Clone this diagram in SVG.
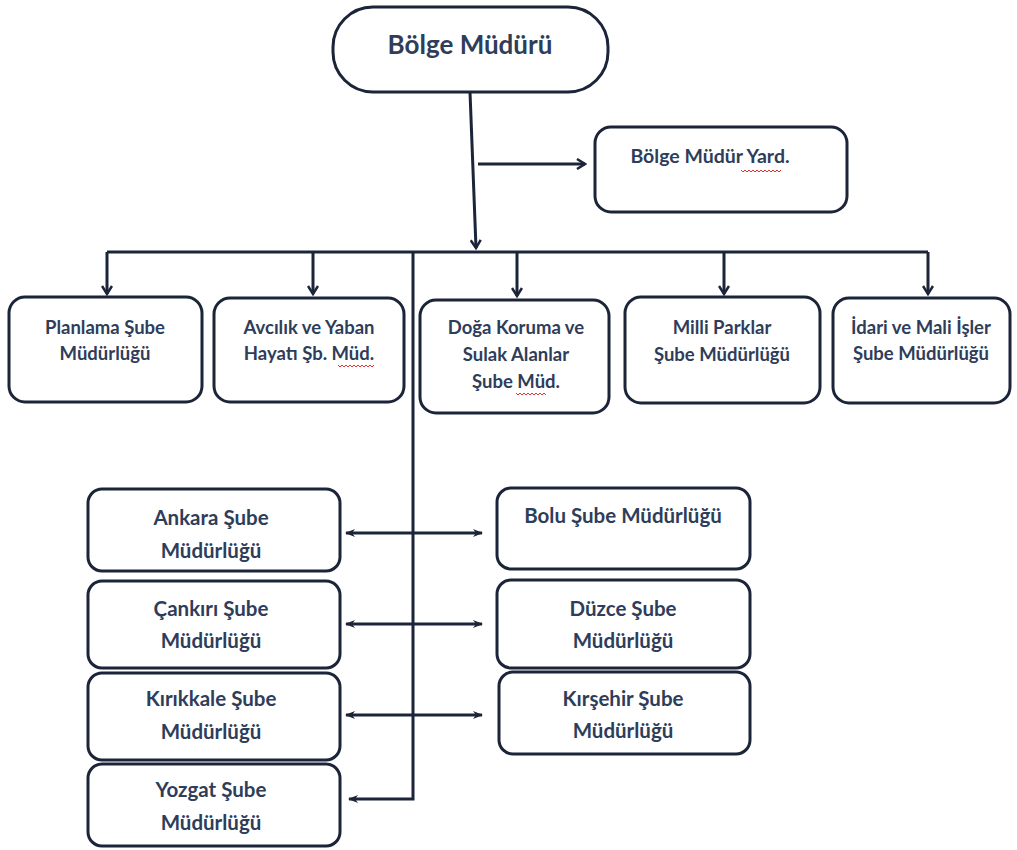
<svg xmlns="http://www.w3.org/2000/svg" width="1017" height="850" viewBox="0 0 1017 850">
<style>
.box{fill:#fff;stroke:#1b2438;stroke-width:3}
.ln{fill:none;stroke:#1b2438;stroke-width:3}
.t{font-family:Lato,"Liberation Sans",sans-serif;font-weight:bold;fill:#2e3d5a;text-anchor:middle;font-size:18.5px}
.b{font-size:20.5px}
.sq{fill:none;stroke:#d33;stroke-width:1}
</style>
<defs>
<marker id="v" viewBox="0 0 12 12" refX="10" refY="6" markerWidth="12" markerHeight="12" markerUnits="userSpaceOnUse" orient="auto-start-reverse">
<path d="M2,1 L10,6 L2,11" fill="none" stroke="#1b2438" stroke-width="2.5"/>
</marker>
<marker id="s" viewBox="0 0 10 10" refX="9" refY="5" markerWidth="10" markerHeight="10" markerUnits="userSpaceOnUse" orient="auto-start-reverse">
<path d="M0,1 L10,5 L0,9 L3,5 Z" fill="#1b2438"/>
</marker>
</defs>
<g id="connectors">
<path class="ln" d="M470,92 L476,248" marker-end="url(#v)"/>
<path class="ln" d="M478,164 L585,164" marker-end="url(#v)"/>
<path class="ln" d="M107,252 L928,252"/>
<path class="ln" d="M107,252 L107,294" marker-end="url(#v)"/>
<path class="ln" d="M313,252 L313,294" marker-end="url(#v)"/>
<path class="ln" d="M517,252 L517,296" marker-end="url(#v)"/>
<path class="ln" d="M724,252 L724,294" marker-end="url(#v)"/>
<path class="ln" d="M928,252 L928,294" marker-end="url(#v)"/>
<path class="ln" d="M413,252 L413,799 L349,799" marker-end="url(#s)"/>
<path class="ln" d="M346,533 L482,533" marker-start="url(#s)" marker-end="url(#s)"/>
<path class="ln" d="M346,624 L482,624" marker-start="url(#s)" marker-end="url(#s)"/>
<path class="ln" d="M346,715 L482,715" marker-start="url(#s)" marker-end="url(#s)"/>
</g>
<g id="n-bolge-muduru">
<rect class="box" x="333" y="7" width="275" height="85" rx="40"/>
<text class="t" x="470" y="54" style="font-size:26px">Bölge Müdürü</text>
</g>
<g id="n-yard">
<rect class="box" x="595" y="127" width="252" height="85" rx="16"/>
<text class="t" x="710" y="163" style="font-size:19.5px">Bölge Müdür Yard.</text>
<path class="sq" d="M741,170 l2,2 l2,-2 l2,2 l2,-2 l2,2 l2,-2 l2,2 l2,-2 l2,2 l2,-2 l2,2 l2,-2 l2,2 l2,-2 l2,2 l2,-2 l2,2 l2,-2 l2,2 l2,-2"/>
</g>
<g id="n-planlama">
<rect class="box" x="9" y="297" width="193" height="105" rx="16"/>
<text class="t" x="105" y="334">Planlama Şube</text>
<text class="t" x="105" y="360">Müdürlüğü</text>
</g>
<g id="n-avcilik">
<rect class="box" x="214" y="298" width="190" height="104" rx="16"/>
<text class="t" x="309" y="334">Avcılık ve Yaban</text>
<text class="t" x="309" y="360">Hayatı Şb. Müd.</text>
<path class="sq" d="M338,365 l2,2 l2,-2 l2,2 l2,-2 l2,2 l2,-2 l2,2 l2,-2 l2,2 l2,-2 l2,2 l2,-2 l2,2 l2,-2 l2,2 l2,-2 l2,2 l2,-2"/>
</g>
<g id="n-doga">
<rect class="box" x="420" y="300" width="189" height="113" rx="16"/>
<text class="t" x="516" y="334">Doğa Koruma ve</text>
<text class="t" x="516" y="361">Sulak Alanlar</text>
<text class="t" x="516" y="388">Şube Müd.</text>
<path class="sq" d="M516,393 l2,2 l2,-2 l2,2 l2,-2 l2,2 l2,-2 l2,2 l2,-2 l2,2 l2,-2 l2,2 l2,-2 l2,2 l2,-2 l2,2"/>
</g>
<g id="n-milli">
<rect class="box" x="625" y="297" width="195" height="106" rx="16"/>
<text class="t" x="722" y="334">Milli Parklar</text>
<text class="t" x="722" y="361">Şube Müdürlüğü</text>
</g>
<g id="n-idari">
<rect class="box" x="833" y="298" width="177" height="105" rx="16"/>
<text class="t" x="921" y="334">İdari ve Mali İşler</text>
<text class="t" x="921" y="360">Şube Müdürlüğü</text>
</g>
<g id="n-ankara">
<rect class="box" x="88" y="489" width="252" height="82" rx="14"/>
<text class="t b" x="211" y="525">Ankara Şube</text>
<text class="t b" x="211" y="558">Müdürlüğü</text>
</g>
<g id="n-bolu">
<rect class="box" x="497" y="488" width="253" height="81" rx="14"/>
<text class="t b" x="623" y="523">Bolu Şube Müdürlüğü</text>
</g>
<g id="n-cankiri">
<rect class="box" x="88" y="581" width="252" height="87" rx="14"/>
<text class="t b" x="211" y="616">Çankırı Şube</text>
<text class="t b" x="211" y="648">Müdürlüğü</text>
</g>
<g id="n-duzce">
<rect class="box" x="497" y="580" width="253" height="88" rx="14"/>
<text class="t b" x="623" y="616">Düzce Şube</text>
<text class="t b" x="623" y="648">Müdürlüğü</text>
</g>
<g id="n-kirikkale">
<rect class="box" x="88" y="673" width="252" height="87" rx="14"/>
<text class="t b" x="211" y="706">Kırıkkale Şube</text>
<text class="t b" x="211" y="739">Müdürlüğü</text>
</g>
<g id="n-kirsehir">
<rect class="box" x="499" y="672" width="251" height="82" rx="14"/>
<text class="t b" x="623" y="706">Kırşehir Şube</text>
<text class="t b" x="623" y="738">Müdürlüğü</text>
</g>
<g id="n-yozgat">
<rect class="box" x="88" y="764" width="252" height="82" rx="14"/>
<text class="t b" x="211" y="797">Yozgat Şube</text>
<text class="t b" x="211" y="830">Müdürlüğü</text>
</g>
</svg>
